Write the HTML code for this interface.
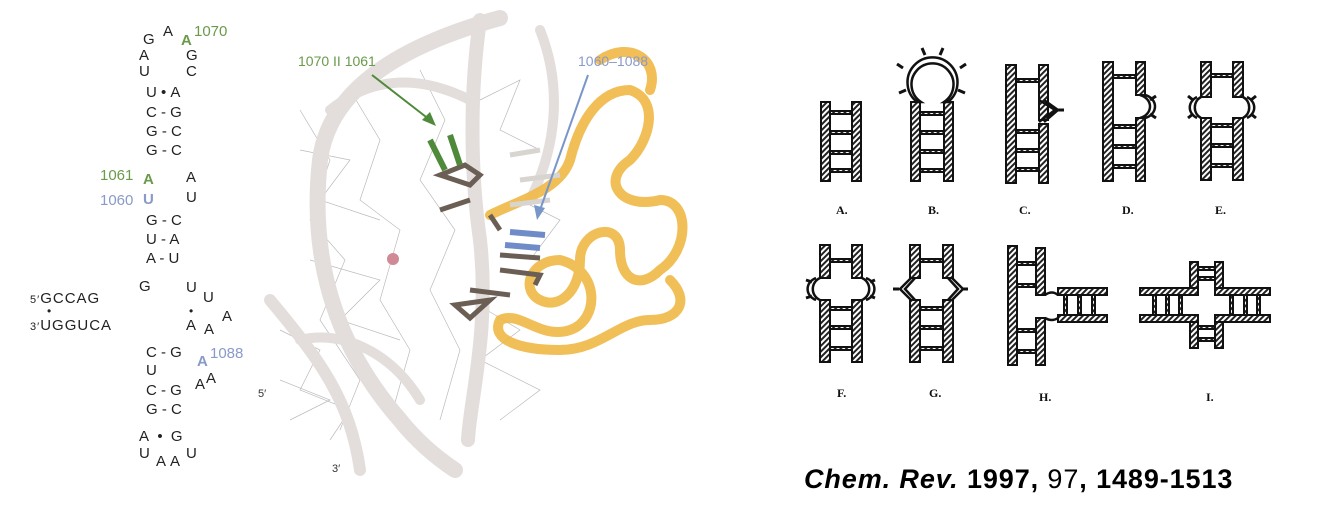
<!DOCTYPE html>
<html><head><meta charset="utf-8"><style>
body{margin:0;width:1322px;height:523px;background:#fff;position:relative;overflow:hidden;font-family:"Liberation Sans",sans-serif}
.t{position:absolute;font-size:15px;color:#222;line-height:1}
.g{color:#6a9a4a}.b{color:#8a9ac8}
.bd{font-weight:bold}
.lab{position:absolute;font-family:"Liberation Serif",serif;font-weight:bold;font-size:12px;color:#111}
</style></head><body>
<div class="t" style="left:143px;top:32px">G</div><div class="t" style="left:163px;top:24px">A</div>
<div class="t g bd" style="left:181px;top:33px">A</div><div class="t g" style="left:194px;top:24px">1070</div>
<div class="t" style="left:139px;top:48px">A</div><div class="t" style="left:186px;top:48px">G</div>
<div class="t" style="left:139px;top:64px">U</div><div class="t" style="left:186px;top:64px">C</div>
<div class="t" style="left:146px;top:85px">U&nbsp;•&nbsp;A</div>
<div class="t" style="left:146px;top:105px">C - G</div>
<div class="t" style="left:146px;top:124px">G - C</div>
<div class="t" style="left:146px;top:143px">G - C</div>
<div class="t g" style="left:100px;top:168px">1061</div><div class="t g bd" style="left:143px;top:172px">A</div><div class="t" style="left:186px;top:170px">A</div>
<div class="t b" style="left:100px;top:193px">1060</div><div class="t b bd" style="left:143px;top:192px">U</div><div class="t" style="left:186px;top:190px">U</div>
<div class="t" style="left:146px;top:213px">G - C</div>
<div class="t" style="left:146px;top:232px">U - A</div>
<div class="t" style="left:146px;top:251px">A - U</div>
<div class="t" style="left:139px;top:279px">G</div><div class="t" style="left:186px;top:280px">U</div><div class="t" style="left:203px;top:290px">U</div>
<div class="t" style="left:30px;top:291px;letter-spacing:1px"><span style="font-size:11px">5′</span>GCCAG</div>
<div class="t" style="left:30px;top:318px;letter-spacing:1px"><span style="font-size:11px">3′</span>UGGUCA</div>
<div class="t" style="left:47px;top:305px;font-size:12px">•</div><div class="t" style="left:189px;top:305px;font-size:12px">•</div>
<div class="t" style="left:222px;top:309px">A</div><div class="t" style="left:204px;top:322px">A</div><div class="t" style="left:186px;top:318px">A</div>
<div class="t" style="left:146px;top:345px">C - G</div>
<div class="t b bd" style="left:197px;top:354px">A</div><div class="t b" style="left:210px;top:346px">1088</div>
<div class="t" style="left:146px;top:363px">U</div>
<div class="t" style="left:146px;top:383px">C - G</div><div class="t" style="left:195px;top:377px">A</div><div class="t" style="left:206px;top:371px">A</div>
<div class="t" style="left:146px;top:402px">G - C</div>
<div class="t" style="left:139px;top:429px">A&nbsp;&nbsp;•&nbsp;&nbsp;G</div>
<div class="t" style="left:139px;top:446px">U</div><div class="t" style="left:156px;top:454px">A</div><div class="t" style="left:170px;top:454px">A</div><div class="t" style="left:186px;top:446px">U</div>

<svg style="position:absolute;left:0;top:0" width="1322" height="523">
<g stroke="#aaa" stroke-width="0.7" fill="none" opacity="0.8">
<path d="M300 110 L330 160 L310 220 L345 260 L320 320 L360 380 L340 430"/>
<path d="M350 90 L380 140 L360 200 L400 230 L380 300 L410 350 L390 420"/>
<path d="M420 70 L445 120 L420 180 L455 230 L430 290 L460 350 L440 420"/>
<path d="M280 330 L320 350 L300 390 L350 410 L330 440"/>
<path d="M300 150 L350 160 L320 200 L380 220"/><path d="M310 260 L380 280 L340 320 L400 340"/>
<path d="M470 300 L520 330 L480 360 L540 390 L500 420"/><path d="M480 100 L520 80 L500 130 L540 150"/>
<path d="M520 200 L560 220 L530 260"/><path d="M280 380 L330 400 L290 420"/>
</g>
<g fill="none" stroke="#e3dedb" stroke-linecap="round">
<path d="M500 18 C420 40 330 80 320 160 C310 250 330 340 400 420 C420 445 440 460 455 470" stroke-width="16"/>
<path d="M480 20 C470 90 470 170 480 240 C490 330 470 400 468 440" stroke-width="14"/>
<path d="M540 30 C560 80 560 140 530 200" stroke-width="10"/>
<path d="M270 300 C320 360 350 400 360 470" stroke-width="12"/>
<path d="M300 340 C340 330 390 350 420 400" stroke-width="10"/>
<path d="M330 110 C380 70 430 80 470 100" stroke-width="10"/>
</g>
<g fill="none" stroke="#f0b846" stroke-width="10" stroke-linecap="round" stroke-linejoin="round" opacity="0.9">
<path d="M490 215 C520 200 560 190 570 160 C580 120 600 90 630 90 C660 100 650 140 630 160 C600 180 620 210 660 200 C690 200 690 250 660 270 C640 290 620 280 620 250 C620 220 580 230 580 260 C580 290 560 310 540 300 C520 290 530 260 560 260 C600 270 600 320 570 330 C540 340 520 310 500 320 C490 340 520 350 560 350 C600 350 620 320 650 320 C680 320 690 300 670 280"/>
<path d="M600 60 C630 40 660 60 650 90"/>
</g>
<g stroke="#6b5f55" stroke-width="5" fill="none">
<path d="M440 175 L470 185 L480 175 L465 165 Z"/><path d="M440 210 L470 200"/>
<path d="M490 215 L500 230"/><path d="M500 270 L540 275 L535 285"/><path d="M455 305 L490 300 L470 318 Z"/>
<path d="M500 255 L540 258"/><path d="M470 290 L510 295"/>
</g>
<g stroke="#d8d4d0" stroke-width="5" fill="none"><path d="M510 155 L540 150"/><path d="M520 180 L560 175"/><path d="M510 205 L550 200"/></g>
<g stroke="#4e8a3a" stroke-width="6" fill="none"><path d="M430 140 L445 170"/><path d="M450 135 L460 165"/></g>
<g stroke="#6f8cc8" stroke-width="6" fill="none"><path d="M510 232 L545 235"/><path d="M505 245 L540 248"/></g>
<circle cx="393" cy="259" r="6" fill="#cf8a96"/>
<path d="M372 75 L430 120" stroke="#4e8a3a" stroke-width="2"/><path d="M436 126 L422 120 L430 112 Z" fill="#4e8a3a"/>
<path d="M588 75 L540 210" stroke="#7a96c8" stroke-width="2"/><path d="M537 220 L534 205 L545 208 Z" fill="#7a96c8"/>
<text x="298" y="66" font-family="Liberation Sans" font-size="14" fill="#6a9a4a">1070 II 1061</text>
<text x="578" y="66" font-family="Liberation Sans" font-size="14" fill="#8a9ac8">1060–1088</text>
<text x="258" y="397" font-family="Liberation Sans" font-size="11" fill="#333">5′</text>
<text x="332" y="472" font-family="Liberation Sans" font-size="11" fill="#333">3′</text>

<defs><pattern id="h" width="4" height="4" patternUnits="userSpaceOnUse" patternTransform="rotate(45)"><rect width="4" height="4" fill="#fff"/><rect width="2" height="4" fill="#222"/></pattern></defs>
<g fill="url(#h)" stroke="#111" stroke-width="2">
<rect x="821" y="102" width="9" height="79"/><rect x="852" y="102" width="9" height="79"/>
<rect x="830" y="111" width="22" height="3"/><rect x="830" y="131" width="22" height="3"/><rect x="830" y="151" width="22" height="3"/><rect x="830" y="169" width="22" height="3"/>
<rect x="911" y="102" width="9" height="79"/><rect x="944" y="102" width="9" height="79"/>
<rect x="920" y="112" width="24" height="3"/><rect x="920" y="131" width="24" height="3"/><rect x="920" y="150" width="24" height="3"/><rect x="920" y="169" width="24" height="3"/>
<rect x="1006" y="65" width="10" height="118"/><rect x="1039" y="65" width="9" height="55"/><rect x="1039" y="124" width="9" height="59"/>
<rect x="1016" y="79" width="23" height="3"/><rect x="1016" y="130" width="23" height="3"/><rect x="1016" y="149" width="23" height="3"/><rect x="1016" y="168" width="23" height="3"/>
<rect x="1103" y="62" width="10" height="119"/><rect x="1136" y="62" width="9" height="33"/><rect x="1136" y="118" width="9" height="63"/>
<rect x="1113" y="75" width="23" height="3"/><rect x="1113" y="125" width="23" height="3"/><rect x="1113" y="145" width="23" height="3"/><rect x="1113" y="165" width="23" height="3"/>
<rect x="1201" y="62" width="10" height="35"/><rect x="1233" y="62" width="10" height="35"/><rect x="1201" y="118" width="10" height="62"/><rect x="1233" y="118" width="10" height="62"/>
<rect x="1211" y="74" width="22" height="3"/><rect x="1211" y="124" width="22" height="3"/><rect x="1211" y="144" width="22" height="3"/><rect x="1211" y="164" width="22" height="3"/>
<rect x="820" y="245" width="10" height="33"/><rect x="852" y="245" width="10" height="33"/><rect x="820" y="300" width="10" height="62"/><rect x="852" y="300" width="10" height="62"/>
<rect x="830" y="259" width="22" height="3"/><rect x="830" y="307" width="22" height="3"/><rect x="830" y="326" width="22" height="3"/><rect x="830" y="347" width="22" height="3"/>
<rect x="910" y="245" width="10" height="33"/><rect x="943" y="245" width="10" height="33"/><rect x="910" y="300" width="10" height="62"/><rect x="943" y="300" width="10" height="62"/>
<rect x="920" y="259" width="23" height="3"/><rect x="920" y="307" width="23" height="3"/><rect x="920" y="326" width="23" height="3"/><rect x="920" y="347" width="23" height="3"/>
<rect x="1008" y="246" width="9" height="119"/><rect x="1036" y="248" width="9" height="47"/><rect x="1036" y="318" width="9" height="47"/>
<rect x="1017" y="262" width="19" height="3"/><rect x="1017" y="284" width="19" height="3"/><rect x="1017" y="329" width="19" height="3"/><rect x="1017" y="350" width="19" height="3"/>
<rect x="1058" y="288" width="49" height="7"/><rect x="1058" y="315" width="49" height="7"/>
<rect x="1064" y="295" width="3" height="20"/><rect x="1078" y="295" width="3" height="20"/><rect x="1092" y="295" width="3" height="20"/>
<rect x="1140" y="288" width="58" height="7"/><rect x="1140" y="315" width="58" height="7"/><rect x="1215" y="288" width="55" height="7"/><rect x="1215" y="315" width="55" height="7"/>
<rect x="1190" y="262" width="8" height="26"/><rect x="1215" y="262" width="8" height="26"/><rect x="1190" y="322" width="8" height="26"/><rect x="1215" y="322" width="8" height="26"/>
<rect x="1198" y="267" width="17" height="3"/><rect x="1198" y="277" width="17" height="3"/><rect x="1198" y="326" width="17" height="3"/><rect x="1198" y="338" width="17" height="3"/>
<rect x="1153" y="295" width="3" height="20"/><rect x="1166" y="295" width="3" height="20"/><rect x="1179" y="295" width="3" height="20"/>
<rect x="1230" y="295" width="3" height="20"/><rect x="1244" y="295" width="3" height="20"/><rect x="1257" y="295" width="3" height="20"/>
</g>
<g fill="#fff" stroke="#111" stroke-width="2.5">
<path d="M917 102 A25 25 0 1 1 948 102 L944 102 A21 21 0 1 0 921 102 Z"/>
<path d="M1039 100 L1055 110 L1039 122 M1044 100 L1058 110 L1044 122" fill="none"/>
<path d="M1140 95 A14 12 0 0 1 1140 118 M1145 95 A14 12 0 0 1 1145 118" fill="none"/>
<path d="M1201 97 A12 12 0 0 0 1201 118 M1197 97 A14 12 0 0 0 1197 118 M1243 97 A12 12 0 0 1 1243 118 M1247 97 A14 12 0 0 1 1247 118" fill="none"/>
<path d="M820 278 A12 12 0 0 0 820 300 M816 278 A14 12 0 0 0 816 300 M862 278 A12 12 0 0 1 862 300 M866 278 A14 12 0 0 1 866 300" fill="none"/>
<path d="M915 278 L905 289 L915 300 M911 278 L900 289 L911 300 M948 278 L958 289 L948 300 M952 278 L963 289 L952 300" fill="none"/>
<path d="M1045 295 Q1052 290 1058 295 M1045 318 Q1052 322 1058 318" fill="none"/>
</g>
<g stroke="#111" stroke-width="3">
<path d="M903 68 L897 64 M906 90 L899 93 M960 68 L966 64 M958 90 L965 93 M925 55 L922 48 M940 55 L943 48"/>
<path d="M1058 110 L1064 110 M1150 100 L1156 96 M1150 114 L1156 118 M1193 100 L1188 96 M1193 114 L1188 118 M1251 100 L1256 96 M1251 114 L1256 118"/>
<path d="M812 282 L806 280 M812 296 L806 298 M870 282 L875 280 M870 296 L875 298 M899 289 L893 289 M963 289 L968 289"/>
</g>
</svg>
<div class="lab" style="left:836px;top:203px">A.</div><div class="lab" style="left:928px;top:203px">B.</div><div class="lab" style="left:1019px;top:203px">C.</div><div class="lab" style="left:1122px;top:203px">D.</div><div class="lab" style="left:1215px;top:203px">E.</div>
<div class="lab" style="left:837px;top:386px">F.</div><div class="lab" style="left:929px;top:386px">G.</div><div class="lab" style="left:1039px;top:390px">H.</div><div class="lab" style="left:1206px;top:390px">I.</div>
<div style="position:absolute;left:804px;top:464px;font-size:27px;letter-spacing:0.9px;color:#000;white-space:nowrap"><b><i>Chem. Rev.</i> 1997,</b> 97<b>, 1489-1513</b></div>
</body></html>
